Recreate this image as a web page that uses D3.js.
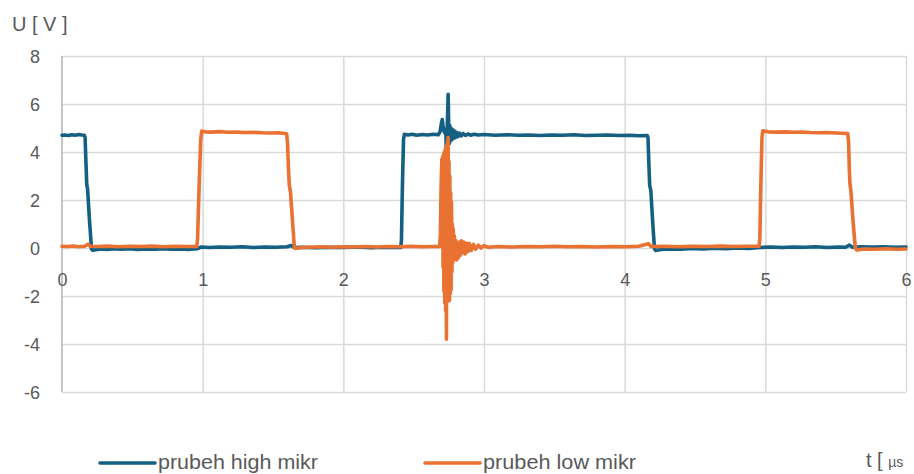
<!DOCTYPE html>
<html>
<head>
<meta charset="utf-8">
<script src="https://cdn.jsdelivr.net/npm/d3@7"></script>
<style>
  html, body { margin: 0; padding: 0; background: #ffffff; }
  svg { display: block; }
  text { font-family: "Liberation Sans", Arial, sans-serif; fill: #595959; }
</style>
</head>
<body>
<svg id="chart" width="914" height="474"></svg>
<script>
// Oscilloscope traces: time in µs, voltage in V, as [t, U] pairs.
const highMikr = [
  [0.000,4.70],[0.020,4.71],[0.045,4.69],[0.070,4.72],[0.095,4.70],[0.120,4.73],[0.140,4.71],[0.158,4.70],
  [0.164,4.62],[0.170,3.60],[0.176,2.65],[0.182,2.45],[0.196,1.10],[0.210,-0.04],[0.218,-0.09],
  [0.240,-0.07],[0.280,-0.04],[0.320,-0.06],[0.370,-0.03],[0.420,-0.05],[0.480,-0.03],[0.540,-0.06],
  [0.600,-0.04],[0.660,-0.05],[0.720,-0.03],[0.780,-0.05],[0.840,-0.04],[0.900,-0.06],[0.960,-0.03],
  [0.990,0.04],[1.050,0.02],[1.120,0.04],[1.200,0.03],[1.280,0.05],[1.360,0.02],[1.440,0.04],[1.520,0.03],
  [1.600,0.05],[1.630,0.10],[1.650,0.02],[1.700,0.03],[1.800,0.01],[1.900,0.03],[2.000,0.02],[2.100,0.04],
  [2.200,0.01],[2.300,0.03],[2.408,0.02],[2.413,0.30],[2.420,2.60],[2.428,4.55],[2.434,4.74],[2.460,4.71],
  [2.490,4.74],[2.520,4.70],[2.560,4.73],[2.600,4.71],[2.640,4.74],[2.675,4.72],[2.688,4.85],[2.697,5.20],
  [2.703,5.35],[2.709,5.10],[2.716,4.85],[2.724,4.78],[2.729,4.90],[2.733,3.75],[2.737,4.70],[2.741,5.50],
  [2.745,6.40],[2.749,5.10],[2.753,4.35],[2.757,5.10],[2.761,4.45],[2.765,5.00],[2.770,4.50],[2.775,4.95],
  [2.781,4.55],[2.788,4.88],[2.796,4.60],[2.805,4.82],[2.815,4.64],[2.826,4.79],[2.838,4.67],[2.852,4.77],
  [2.868,4.69],[2.885,4.75],[2.905,4.70],[2.930,4.74],[2.960,4.71],[3.000,4.73],[3.080,4.70],[3.160,4.72],
  [3.240,4.70],[3.320,4.71],[3.400,4.69],[3.480,4.71],[3.560,4.70],[3.640,4.72],[3.720,4.69],[3.800,4.70],
  [3.880,4.71],[3.960,4.69],[4.040,4.70],[4.100,4.68],[4.160,4.69],[4.166,4.60],[4.172,3.50],[4.178,2.60],
  [4.186,2.40],[4.200,1.00],[4.212,-0.03],[4.220,-0.10],[4.260,-0.06],[4.320,-0.04],[4.400,-0.05],
  [4.480,-0.02],[4.560,-0.04],[4.640,-0.01],[4.720,-0.03],[4.800,0.00],[4.880,-0.02],[4.960,0.02],
  [5.040,0.04],[5.120,0.02],[5.200,0.04],[5.280,0.03],[5.360,0.05],[5.440,0.02],[5.520,0.04],[5.570,0.03],
  [5.598,0.12],[5.620,0.03],[5.680,0.05],[5.760,0.04],[5.840,0.05],[5.920,0.03],[6.000,0.04]
];

const lowMikr = [
  [0.000,0.07],[0.040,0.06],[0.080,0.08],[0.120,0.05],[0.160,0.07],[0.185,0.16],[0.200,0.07],[0.250,0.06],
  [0.320,0.08],[0.400,0.05],[0.480,0.07],[0.560,0.06],[0.640,0.08],[0.720,0.05],[0.800,0.07],[0.880,0.06],
  [0.958,0.06],[0.964,0.40],[0.975,2.60],[0.986,4.50],[0.993,4.87],[1.020,4.84],[1.060,4.83],[1.120,4.85],
  [1.180,4.82],[1.240,4.83],[1.300,4.81],[1.360,4.82],[1.420,4.80],[1.480,4.79],[1.540,4.80],[1.597,4.76],
  [1.603,4.40],[1.610,3.30],[1.616,2.60],[1.624,2.35],[1.640,1.00],[1.652,0.02],[1.660,-0.02],[1.700,0.02],
  [1.760,0.03],[1.840,0.05],[1.920,0.03],[2.000,0.05],[2.080,0.04],[2.160,0.06],[2.240,0.04],[2.320,0.06],
  [2.400,0.05],[2.480,0.07],[2.560,0.05],[2.640,0.06],[2.684,0.06],
  [2.690,0.50],[2.695,2.50],[2.700,3.70],[2.703,0.30],[2.706,3.80],[2.709,-0.80],[2.712,3.90],[2.715,-1.80],
  [2.718,4.00],[2.721,-2.30],[2.724,4.10],[2.727,-2.60],[2.730,4.20],[2.733,-3.80],[2.736,4.30],[2.739,-2.20],
  [2.742,4.40],[2.745,4.60],[2.748,-2.00],[2.751,3.60],[2.754,-2.20],[2.757,3.00],[2.760,-1.90],[2.763,2.30],
  [2.766,-1.75],[2.769,1.90],[2.772,-1.00],[2.775,1.00],[2.778,-0.60],[2.781,0.80],[2.785,-0.50],[2.790,0.50],
  [2.795,-0.40],[2.800,0.30],[2.806,-0.50],[2.812,0.20],[2.818,-0.40],[2.825,0.25],[2.832,-0.30],[2.840,0.30],
  [2.848,-0.20],[2.856,0.25],[2.865,-0.25],[2.875,0.20],[2.885,-0.15],[2.895,0.20],[2.910,-0.10],[2.925,0.15],
  [2.940,-0.05],[2.960,0.12],[2.980,0.00],[3.000,0.10],[3.030,0.03],[3.100,0.06],[3.200,0.04],[3.300,0.06],
  [3.400,0.05],[3.500,0.07],[3.600,0.05],[3.700,0.06],[3.800,0.04],[3.900,0.06],[4.000,0.05],[4.100,0.07],
  [4.168,0.18],[4.190,0.06],[4.280,0.07],[4.380,0.05],[4.480,0.07],[4.580,0.06],[4.680,0.08],[4.780,0.06],
  [4.880,0.07],[4.955,0.07],[4.961,0.40],[4.968,2.60],[4.976,4.60],[4.982,4.88],[5.020,4.84],[5.080,4.83],
  [5.140,4.84],[5.200,4.82],[5.260,4.83],[5.320,4.81],[5.380,4.80],[5.440,4.81],[5.500,4.79],[5.586,4.77],
  [5.592,4.40],[5.597,3.30],[5.601,2.70],[5.608,2.40],[5.625,1.00],[5.640,0.00],[5.648,-0.08],[5.700,-0.04],
  [5.780,-0.05],[5.860,-0.03],[5.940,-0.05],[6.000,-0.04]
];

const xTicks = [0, 1, 2, 3, 4, 5, 6];
const yTicks = [-6, -4, -2, 0, 2, 4, 6, 8];
const seriesNames = ["prubeh high mikr", "prubeh low mikr"];
const seriesColors = ["#156082", "#E97132"];

const svg = d3.select("#chart");
const plot = { left: 62, right: 906, top: 56, bottom: 392 };

const x = d3.scaleLinear().domain([0, 6]).range([plot.left, plot.right]);
const y = d3.scaleLinear().domain([-6, 8]).range([plot.bottom, plot.top]);
const plainNum = d => String(d);

// Horizontal grid + y tick labels
const yAxis = svg.append("g")
  .attr("transform", `translate(${plot.left},0)`)
  .call(d3.axisLeft(y).tickValues(yTicks).tickFormat(plainNum)
    .tickSize(-(plot.right - plot.left)).tickPadding(22));
yAxis.select(".domain").remove();
yAxis.selectAll(".tick line").attr("stroke", "#d9d9d9").attr("stroke-width", 1.5);
yAxis.selectAll(".tick text")
  .attr("font-size", 18).attr("fill", "#595959")
  .attr("font-family", "Liberation Sans, Arial, sans-serif")
  .attr("dy", "0.36em");

// Vertical grid
const xGrid = svg.append("g")
  .attr("transform", `translate(0,${plot.bottom})`)
  .call(d3.axisBottom(x).tickValues(xTicks.slice(1)).tickSize(-(plot.bottom - plot.top)).tickFormat(""));
xGrid.select(".domain").remove();
xGrid.selectAll(".tick line").attr("stroke", "#d9d9d9").attr("stroke-width", 1.5);

// Vertical axis line at t = 0
svg.append("line")
  .attr("x1", x(0)).attr("x2", x(0)).attr("y1", plot.top).attr("y2", plot.bottom)
  .attr("stroke", "#bfbfbf").attr("stroke-width", 1.8);

// x tick labels sit just under the U = 0 line
const xAxis = svg.append("g")
  .attr("transform", `translate(0,${y(0)})`)
  .call(d3.axisBottom(x).tickValues(xTicks).tickFormat(plainNum).tickSize(0).tickPadding(24));
xAxis.select(".domain").remove();
xAxis.selectAll(".tick text")
  .attr("font-size", 18).attr("fill", "#595959")
  .attr("font-family", "Liberation Sans, Arial, sans-serif")
  .attr("dy", "0.36em").attr("y", 32);

// Traces
const line = d3.line().x(d => x(d[0])).y(d => y(d[1]));
[highMikr, lowMikr].forEach((data, i) => {
  svg.append("path")
    .datum(data)
    .attr("d", line)
    .attr("fill", "none")
    .attr("stroke", seriesColors[i])
    .attr("stroke-width", 3.6)
    .attr("stroke-linejoin", "round")
    .attr("stroke-linecap", "round");
});

// Axis titles
svg.append("text")
  .attr("x", 12).attr("y", 31)
  .attr("font-size", 20)
  .text("U [ V ]");

const tTitle = svg.append("text")
  .attr("x", 866).attr("y", 467)
  .attr("font-size", 20);
tTitle.append("tspan").text("t [ ");
tTitle.append("tspan").attr("font-size", 14).text("µs");

// Legend
const legendX = [100, 425];
const legendTextW = [160, 153];
seriesNames.forEach((name, i) => {
  svg.append("line")
    .attr("x1", legendX[i]).attr("x2", legendX[i] + 55)
    .attr("y1", 463).attr("y2", 463)
    .attr("stroke", seriesColors[i]).attr("stroke-width", 3.6)
    .attr("stroke-linecap", "round");
  svg.append("text")
    .attr("x", legendX[i] + 58).attr("y", 469)
    .attr("font-size", 20)
    .attr("font-family", "Liberation Sans Narrow, Arial Narrow, sans-serif")
    .attr("textLength", legendTextW[i])
    .attr("lengthAdjust", "spacingAndGlyphs")
    .text(name);
});
</script>
</body>
</html>
